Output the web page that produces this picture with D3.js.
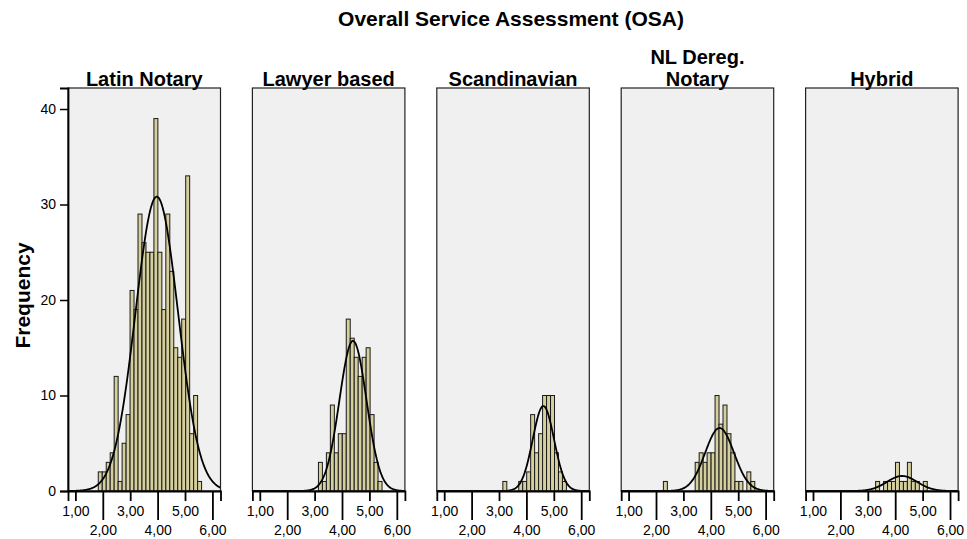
<!DOCTYPE html>
<html>
<head>
<meta charset="utf-8">
<script src="https://cdn.jsdelivr.net/npm/d3@7"></script>
<style>
  html, body { margin: 0; padding: 0; background: #fff; }
  svg { display: block; font-family: "Liberation Sans", Arial, sans-serif; }
  .tick text { font-size: 14px; fill: #000; }
</style>
</head>
<body>
<svg id="chart"></svg>
<script>
// ── DATA ─────────────────────────────────────────────────────────────────
const chartTitle = "Overall Service Assessment (OSA)";
const panelTitles = [["Latin Notary"], ["Lawyer based"], ["Scandinavian"], ["NL Dereg.", "Notary"], ["Hybrid"]];

// histogram bins shared by all panels
const binLo = 1.835;
const binWidth = 0.145;

// counts per bin (26 bins)
const countsLatin    = [2,2,3,4,12,1,5,8,21,19,29,26,25,25,39,25,19,29,23,15,14,18,33,6,10,1];
const countsLawyer   = [0,0,0,0,0,0,0,0,0,3,1,4,9,4,6,6,18,16,14,12,14,15,8,3,1,0];
const countsScand    = [0,0,0,0,0,0,0,0,0,1,0,0,0,1,1,2,8,4,6,10,10,10,4,2,1,0];
const countsNL       = [0,0,0,1,0,0,0,0,0,0,0,3,4,3,4,4,10,7,9,6,4,1,1,0,2,1];
const countsHybrid   = [0,0,0,0,0,0,0,0,0,0,1,0,1,1,1,3,1,1,3,1,1,0,1,0,0,0];
const panelCounts = [countsLatin, countsLawyer, countsScand, countsNL, countsHybrid];

// normal curve parameters
const curveMean = [3.97, 4.40, 4.62, 4.32, 4.25];
const curveSd   = [0.777, 0.493, 0.39, 0.526, 0.552];

const yTicks = [0, 10, 20, 30, 40];
const xTicks = [1, 2, 3, 4, 5, 6];

// ── DIMENSIONS ───────────────────────────────────────────────────────────
const W = 967, H = 539;
const frameLeft = 68, frameTop = 88;
const frameW = 152.5, frameH = 403;
const pitch = 184.4;

const svg = d3.select("#chart").attr("width", W).attr("height", H);

const x = d3.scaleLinear().domain([0.73, 6.295]).range([0, frameW]);
const y = d3.scaleLinear().domain([0, 42.2]).range([frameH, 0]);

const fmt = d3.formatLocale({ decimal: ",", thousands: ".", grouping: [3], currency: ["", ""] }).format(".2f");

// ── TITLE ────────────────────────────────────────────────────────────────
svg.append("text")
  .attr("x", 511).attr("y", 26)
  .attr("text-anchor", "middle")
  .style("font-size", "21px").style("font-weight", "bold")
  .text(chartTitle);

svg.append("text")
  .attr("transform", `translate(30,${frameTop + frameH / 2 + 6}) rotate(-90)`)
  .attr("text-anchor", "middle")
  .style("font-size", "21px").style("font-weight", "bold")
  .text("Frequency");

// ── PANELS ───────────────────────────────────────────────────────────────
panelCounts.forEach((counts, p) => {
  const g = svg.append("g")
    .attr("transform", `translate(${frameLeft + p * pitch},${frameTop})`);

  g.append("clipPath").attr("id", "clip" + p)
    .append("rect").attr("width", frameW).attr("height", frameH);

  g.append("rect")
    .attr("width", frameW).attr("height", frameH)
    .attr("fill", "#f0f0f0");

  // title lines
  const lines = panelTitles[p];
  lines.forEach((t, i) => {
    g.append("text")
      .attr("x", frameW / 2)
      .attr("y", -2 - (lines.length - 1 - i) * 22)
      .attr("text-anchor", "middle")
      .style("font-size", "20px").style("font-weight", "bold")
      .text(t);
  });

  // bars
  const bins = counts.map((c, i) => ({ lo: binLo + i * binWidth, hi: binLo + (i + 1) * binWidth, c }))
    .filter(d => d.c > 0);

  g.selectAll(".bar").data(bins).join("rect")
    .attr("class", "bar")
    .attr("x", d => x(d.lo))
    .attr("width", d => x(d.hi) - x(d.lo))
    .attr("y", d => y(d.c))
    .attr("height", d => y(0) - y(d.c))
    .attr("fill", "#d5cf9e")
    .attr("stroke", "#1a1a1a")
    .attr("stroke-width", 1);

  // normal curve
  const n = d3.sum(counts);
  const m = curveMean[p], s = curveSd[p];
  const pts = d3.range(0, 301).map(i => {
    const v = x.domain()[0] + (x.domain()[1] - x.domain()[0]) * i / 300;
    const f = n * binWidth / (s * Math.sqrt(2 * Math.PI)) * Math.exp(-0.5 * ((v - m) / s) ** 2);
    return [v, f];
  });
  g.append("path")
    .datum(pts)
    .attr("clip-path", `url(#clip${p})`)
    .attr("fill", "none")
    .attr("stroke", "#000")
    .attr("stroke-width", 1.8)
    .attr("d", d3.line().x(d => x(d[0])).y(d => y(d[1])).curve(d3.curveBasis));

  // frame
  g.append("rect")
    .attr("width", frameW).attr("height", frameH)
    .attr("fill", "none")
    .attr("stroke", "#222").attr("stroke-width", 1.2);

  // x axes: odd ticks short, even ticks long
  g.append("g")
    .attr("transform", `translate(0,${frameH})`)
    .call(d3.axisBottom(x).tickValues(xTicks.filter(t => t % 2 === 1)).tickSize(10).tickPadding(5).tickFormat(fmt))
    .call(ax => ax.select(".domain").attr("stroke", "#000").attr("stroke-width", 1.8))
    .call(ax => ax.selectAll(".tick line").attr("stroke-width", 1.8));

  g.append("g")
    .attr("transform", `translate(0,${frameH})`)
    .call(d3.axisBottom(x).tickValues(xTicks.filter(t => t % 2 === 0)).tickSize(29).tickPadding(5).tickFormat(fmt))
    .call(ax => ax.select(".domain").remove())
    .call(ax => ax.selectAll(".tick line").attr("stroke-width", 1.8));

  if (p === 0) {
    g.append("g")
      .call(d3.axisLeft(y).tickValues(yTicks).tickSize(8).tickPadding(4))
      .call(ax => ax.select(".domain").attr("stroke", "#000").attr("stroke-width", 1.8))
      .call(ax => ax.selectAll(".tick line").attr("stroke-width", 1.5));
  }
});
</script>
</body>
</html>
